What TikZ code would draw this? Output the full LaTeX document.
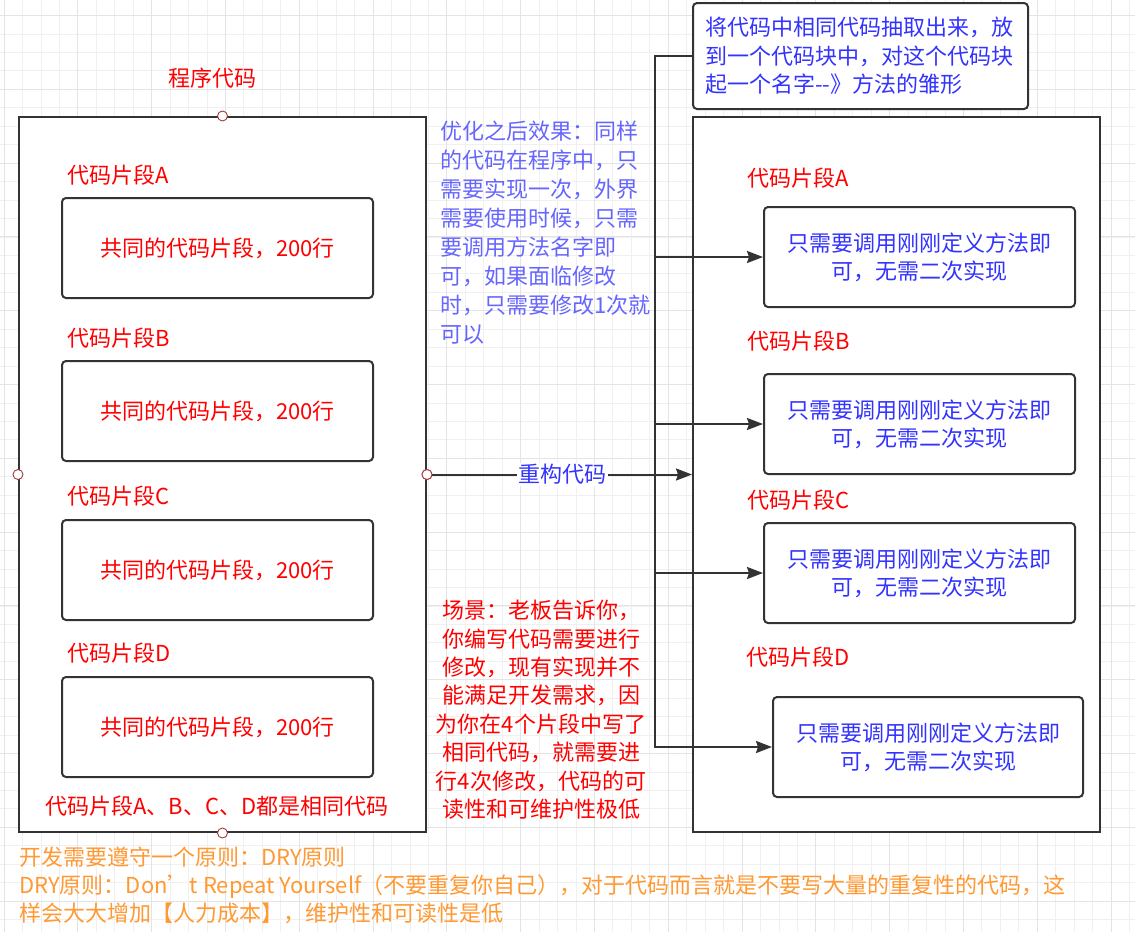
\documentclass[tikz,border=0pt]{standalone}
\usepackage{fontspec}
\setmainfont{Noto Sans CJK SC}
\usetikzlibrary{arrows.meta}
\definecolor{cred}{RGB}{255,0,0}
\definecolor{clav}{RGB}{102,102,255}
\definecolor{cblue}{RGB}{51,51,255}
\definecolor{corange}{RGB}{255,153,51}
\definecolor{cline}{RGB}{51,51,51}
\definecolor{gridminor}{RGB}{240,240,240}
\definecolor{gridmajor}{RGB}{228,228,228}
\definecolor{cport}{RGB}{160,60,60}
\begin{document}
\begin{tikzpicture}[x=1pt,y=-1pt,
  txt/.style={font=\fontsize{22}{29}\selectfont, inner sep=0pt},
  container/.style={draw=cline, line width=2pt, fill=white, inner sep=0pt},
  codebox/.style={draw=cline, line width=2pt, rounded corners=4pt, fill=white, align=center,
    inner sep=0pt, font=\fontsize{22}{28}\selectfont},
  lbl/.style={txt, text=cred, anchor=west},
  port/.style={circle, draw=cport, fill=white, line width=0.9pt, minimum size=10pt, inner sep=0pt},
  conn/.style={draw=cline, line width=2pt, -{Stealth[length=16pt,width=12pt,inset=2pt]}}
]
% background and grid
\useasboundingbox (0,0) rectangle (1135,932);
\fill[white] (0,0) rectangle (1135,932);
\foreach \i in {0,...,61} {\draw[gridminor, line width=0.8pt] ({4+18.45*\i},0) -- ({4+18.45*\i},932);}
\foreach \i in {0,...,49} {\draw[gridminor, line width=0.8pt] (0,{15.5+18.45*\i}) -- (1135,{15.5+18.45*\i});}
\foreach \i in {0,4,...,60} {\draw[gridmajor, line width=1pt] ({4+18.45*\i},0) -- ({4+18.45*\i},932);}
\foreach \i in {0,4,...,48} {\draw[gridmajor, line width=1pt] (0,{15.5+18.45*\i}) -- (1135,{15.5+18.45*\i});}

% left program container
\node[container, minimum width=407pt, minimum height=715pt] (left) at (222.5,474.5) {};
\node[txt, text=cred] (title) at (212,78) {程序代码};
\node[lbl] (lla) at (67,175) {代码片段A};
\node[codebox, text=cred, minimum width=311pt, minimum height=100pt] (la) at (217.5,248) {共同的代码片段，200行};
\node[lbl] (llb) at (67,338) {代码片段B};
\node[codebox, text=cred, minimum width=311pt, minimum height=100pt] (lb) at (217.5,411) {共同的代码片段，200行};
\node[lbl] (llc) at (67,496) {代码片段C};
\node[codebox, text=cred, minimum width=311pt, minimum height=100pt] (lc) at (217.5,570) {共同的代码片段，200行};
\node[lbl] (lld) at (67,653) {代码片段D};
\node[codebox, text=cred, minimum width=311pt, minimum height=100pt] (ld) at (217.5,727) {共同的代码片段，200行};
\node[txt, text=cred] (same) at (217,806) {代码片段A、B、C、D都是相同代码};

% right container
\node[container, minimum width=407pt, minimum height=715pt] (right) at (896.5,474.5) {};
\node[codebox, text=cblue, minimum width=335pt, minimum height=106pt, text width=311pt, align=left,
  font=\fontsize{22}{28.5}\selectfont] (note) at (860.5,56)
  {将代码中相同代码抽取出来，放\\到一个代码块中，对这个代码块\\起一个名字-{}-》方法的雏形};
\node[lbl] (rla) at (747,178) {代码片段A};
\node[codebox, text=cblue, minimum width=311pt, minimum height=100pt] (ra) at (919.5,257) {只需要调用刚刚定义方法即\\可，无需二次实现};
\node[lbl] (rlb) at (747,341) {代码片段B};
\node[codebox, text=cblue, minimum width=311pt, minimum height=100pt] (rb) at (919.5,424) {只需要调用刚刚定义方法即\\可，无需二次实现};
\node[lbl] (rlc) at (747,500) {代码片段C};
\node[codebox, text=cblue, minimum width=311pt, minimum height=100pt] (rc) at (919.5,573) {只需要调用刚刚定义方法即\\可，无需二次实现};
\node[lbl] (rld) at (746,657) {代码片段D};
\node[codebox, text=cblue, minimum width=310pt, minimum height=100pt] (rd) at (928,747) {只需要调用刚刚定义方法即\\可，无需二次实现};

% ports
\node[port] (pt) at (left.north) {};
\node[port] (pl) at (left.west) {};
\node[port] (pr) at (left.east) {};
\node[port] (pb) at (left.south) {};

% connectors
\coordinate (elbow) at ([xshift=-37pt]note.west);
\draw[conn] (note.west) -- (elbow) |- (ra.west);
\draw[conn] (note.west) -- (elbow) |- (rb.west);
\draw[conn] (note.west) -- (elbow) |- (rc.west);
\draw[conn] (note.west) -- (elbow) |- (rd.west);
\draw[conn] (pr.east) -- (right.west)
  node[midway, txt, text=cblue, fill=white, inner sep=1.5pt] (refactor) {重构代码};
\node[port] at (left.east) {};

% free texts
\node[txt, text=clav, align=left, anchor=north west] (opt) at (440,121)
  {优化之后效果：同样\\的代码在程序中，只\\需要实现一次，外界\\需要使用时候，只需\\要调用方法名字即\\可，如果面临修改\\时，只需要修改1次就\\可以};
\node[txt, text=cred, align=center, anchor=north, font=\fontsize{22}{28.4}\selectfont] (scene) at (541,600)
  {场景：老板告诉你，\\你编写代码需要进行\\修改，现有实现并不\\能满足开发需求，因\\为你在4个片段中写了\\相同代码，就需要进\\行4次修改，代码的可\\读性和可维护性极低};
\node[txt, text=corange, align=left, anchor=north west, font=\fontsize{22}{28}\selectfont] (dry) at (19,847)
  {开发需要遵守一个原则：DRY原则\\DRY原则：Don’t Repeat Yourself（不要重复你自己），对于代码而言就是不要写大量的重复性的代码，这\\样会大大增加【人力成本】，维护性和可读性是低};
\end{tikzpicture}
\end{document}
